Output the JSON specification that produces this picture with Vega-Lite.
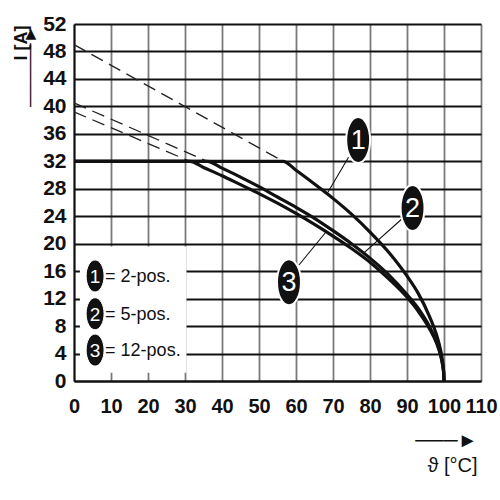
{
  "$schema": "https://vega.github.io/schema/vega-lite/v6.json",
  "width": 407,
  "height": 357,
  "autosize": "none",
  "padding": {"left": 74, "top": 24, "right": 19, "bottom": 119},
  "background": "white",
  "config": {
    "view": {"stroke": null},
    "font": "Liberation Sans, Arial, sans-serif"
  },
  "datasets": {
    "curves": [
      {"series": "1", "t": 0, "v": 32}, {"series": "1", "t": 56.5, "v": 32}, {"series": "1", "t": 60, "v": 30.7}, {"series": "1", "t": 65, "v": 28.7}, {"series": "1", "t": 70, "v": 26.6}, {"series": "1", "t": 75, "v": 24.3}, {"series": "1", "t": 80, "v": 21.7}, {"series": "1", "t": 85, "v": 18.8}, {"series": "1", "t": 90, "v": 15.3}, {"series": "1", "t": 93, "v": 12.8}, {"series": "1", "t": 96, "v": 9.5}, {"series": "1", "t": 98, "v": 6.7}, {"series": "1", "t": 99, "v": 4.7}, {"series": "1", "t": 99.6, "v": 2.9}, {"series": "1", "t": 99.9, "v": 1.4}, {"series": "1", "t": 100, "v": 0},
      {"series": "2", "t": 0, "v": 32}, {"series": "2", "t": 36, "v": 32}, {"series": "2", "t": 40, "v": 31.0}, {"series": "2", "t": 45, "v": 29.7}, {"series": "2", "t": 50, "v": 28.3}, {"series": "2", "t": 55, "v": 26.8}, {"series": "2", "t": 60, "v": 25.3}, {"series": "2", "t": 65, "v": 23.7}, {"series": "2", "t": 70, "v": 21.9}, {"series": "2", "t": 75, "v": 20.0}, {"series": "2", "t": 80, "v": 17.9}, {"series": "2", "t": 85, "v": 15.5}, {"series": "2", "t": 90, "v": 12.6}, {"series": "2", "t": 93, "v": 10.6}, {"series": "2", "t": 96, "v": 8.0}, {"series": "2", "t": 98, "v": 5.7}, {"series": "2", "t": 99, "v": 4.0}, {"series": "2", "t": 99.6, "v": 2.5}, {"series": "2", "t": 99.9, "v": 1.3}, {"series": "2", "t": 100, "v": 0},
      {"series": "3", "t": 0, "v": 32}, {"series": "3", "t": 31.3, "v": 32}, {"series": "3", "t": 35, "v": 31.1}, {"series": "3", "t": 40, "v": 29.9}, {"series": "3", "t": 45, "v": 28.6}, {"series": "3", "t": 50, "v": 27.3}, {"series": "3", "t": 55, "v": 25.9}, {"series": "3", "t": 60, "v": 24.4}, {"series": "3", "t": 65, "v": 22.8}, {"series": "3", "t": 70, "v": 21.1}, {"series": "3", "t": 75, "v": 19.3}, {"series": "3", "t": 80, "v": 17.3}, {"series": "3", "t": 85, "v": 14.9}, {"series": "3", "t": 90, "v": 12.2}, {"series": "3", "t": 93, "v": 10.2}, {"series": "3", "t": 96, "v": 7.7}, {"series": "3", "t": 98, "v": 5.5}, {"series": "3", "t": 99, "v": 3.9}, {"series": "3", "t": 99.6, "v": 2.4}, {"series": "3", "t": 99.9, "v": 1.2}, {"series": "3", "t": 100, "v": 0}
    ],
    "dashed": [
      {"series": "1", "t": 0, "v": 49}, {"series": "1", "t": 56.5, "v": 32},
      {"series": "2", "t": 0, "v": 40.5}, {"series": "2", "t": 36, "v": 32},
      {"series": "3", "t": 0, "v": 39.2}, {"series": "3", "t": 31.3, "v": 32}
    ],
    "box": [{"t": 1.6, "t2": 30.4, "v": 1.2, "v2": 19.6}],
    "leaders": [
      {"t": 74.2, "v": 32.6, "t2": 68.3, "v2": 27.2},
      {"t": 88.6, "v": 23.6, "t2": 78.2, "v2": 18.6},
      {"t": 60.8, "v": 16.9, "t2": 68.1, "v2": 21.7}
    ],
    "callouts": [
      {"n": "1", "t": 76.8, "v": 35.1},
      {"n": "2", "t": 91.5, "v": 25.2},
      {"n": "3", "t": 58.1, "v": 14.4}
    ],
    "legendMarks": [
      {"n": "1", "t": 5.7, "v": 15.3},
      {"n": "2", "t": 5.7, "v": 9.8},
      {"n": "3", "t": 5.7, "v": 4.5}
    ],
    "legendText": [
      {"label": "= 2-pos.", "t": 8.4, "v": 15.3},
      {"label": "= 5-pos.", "t": 8.4, "v": 9.8},
      {"label": "= 12-pos.", "t": 8.4, "v": 4.5}
    ]
  },
  "encoding": {
    "x": {
      "field": "t", "type": "quantitative",
      "scale": {"domain": [0, 110], "nice": false, "zero": false},
      "axis": {
        "values": [0, 10, 20, 30, 40, 50, 60, 70, 80, 90, 100, 110],
        "grid": true, "gridColor": "#7a7a7a", "gridWidth": 1.8, "gridOpacity": 1,
        "domain": true, "domainColor": "#111", "domainWidth": 2,
        "ticks": false,
        "labelFontSize": 20, "labelFontWeight": "bold", "labelColor": "#111",
        "labelPadding": 15, "labelFlush": false, "labelOverlap": false,
        "title": ["───►", "ϑ [°C]"],
        "titleFont": "Liberation Sans, DejaVu Sans",
        "titleFontSize": 20, "titleFontWeight": "normal", "titleColor": "#111",
        "titleAngle": 0, "titleAlign": "right", "titleBaseline": "middle",
        "titleLineHeight": 25, "titleX": 403, "titleY": 59
      }
    },
    "y": {
      "field": "v", "type": "quantitative",
      "scale": {"domain": [0, 52], "nice": false, "zero": false},
      "axis": {
        "values": [0, 4, 8, 12, 16, 20, 24, 28, 32, 36, 40, 44, 48, 52],
        "grid": true, "gridColor": "#111", "gridWidth": 2, "gridOpacity": 1,
        "domain": true, "domainColor": "#111", "domainWidth": 2,
        "ticks": false,
        "labelFontSize": 21, "labelFontWeight": "bold", "labelColor": "#111",
        "labelPadding": 8, "labelFlush": false, "labelOverlap": false,
        "title": ["I [A]", "─────►"],
        "titleFont": "Liberation Sans, DejaVu Sans",
        "titleFontSize": 18, "titleFontWeight": "bold", "titleColor": "#111",
        "titleAngle": -90, "titleAlign": "right", "titleBaseline": "middle",
        "titleLineHeight": 9.5, "titleX": -53, "titleY": 1
      }
    }
  },
  "layer": [
    {
      "data": {"name": "dashed"},
      "mark": {"type": "line", "color": "#222", "strokeWidth": 1.3, "strokeDash": [13, 7]},
      "encoding": {"detail": {"field": "series"}}
    },
    {
      "data": {"name": "curves"},
      "mark": {"type": "line", "color": "#111", "strokeWidth": 3.2, "interpolate": "monotone"},
      "encoding": {"detail": {"field": "series"}}
    },
    {
      "data": {"name": "box"},
      "mark": {"type": "rect", "fill": "white", "stroke": null},
      "encoding": {"x2": {"field": "t2"}, "y2": {"field": "v2"}}
    },
    {
      "data": {"name": "leaders"},
      "mark": {"type": "rule", "color": "#111", "strokeWidth": 1.1},
      "encoding": {"x2": {"field": "t2"}, "y2": {"field": "v2"}}
    },
    {
      "data": {"name": "callouts"},
      "mark": {"type": "point", "filled": true, "fill": "#111", "stroke": "white", "strokeWidth": 2, "opacity": 1, "size": 2116,
        "shape": "M0,-1 C0.287,-1 0.52,-0.552 0.52,0 C0.52,0.552 0.287,1 0,1 C-0.287,1 -0.52,0.552 -0.52,0 C-0.52,-0.552 -0.287,-1 0,-1 Z"}
    },
    {
      "data": {"name": "callouts"},
      "mark": {"type": "text", "color": "white", "fontSize": 27, "align": "center", "baseline": "middle", "dy": 1},
      "encoding": {"text": {"field": "n"}}
    },
    {
      "data": {"name": "legendMarks"},
      "mark": {"type": "point", "filled": true, "fill": "#111", "stroke": "white", "strokeWidth": 1, "opacity": 1, "size": 1024,
        "shape": "M0,-1 C0.309,-1 0.56,-0.552 0.56,0 C0.56,0.552 0.309,1 0,1 C-0.309,1 -0.56,0.552 -0.56,0 C-0.56,-0.552 -0.309,-1 0,-1 Z"}
    },
    {
      "data": {"name": "legendMarks"},
      "mark": {"type": "text", "color": "white", "fontSize": 19, "align": "center", "baseline": "middle", "dy": 1},
      "encoding": {"text": {"field": "n"}}
    },
    {
      "data": {"name": "legendText"},
      "mark": {"type": "text", "color": "#111", "fontSize": 18, "align": "left", "baseline": "middle", "dy": 1},
      "encoding": {"text": {"field": "label"}}
    }
  ]
}
